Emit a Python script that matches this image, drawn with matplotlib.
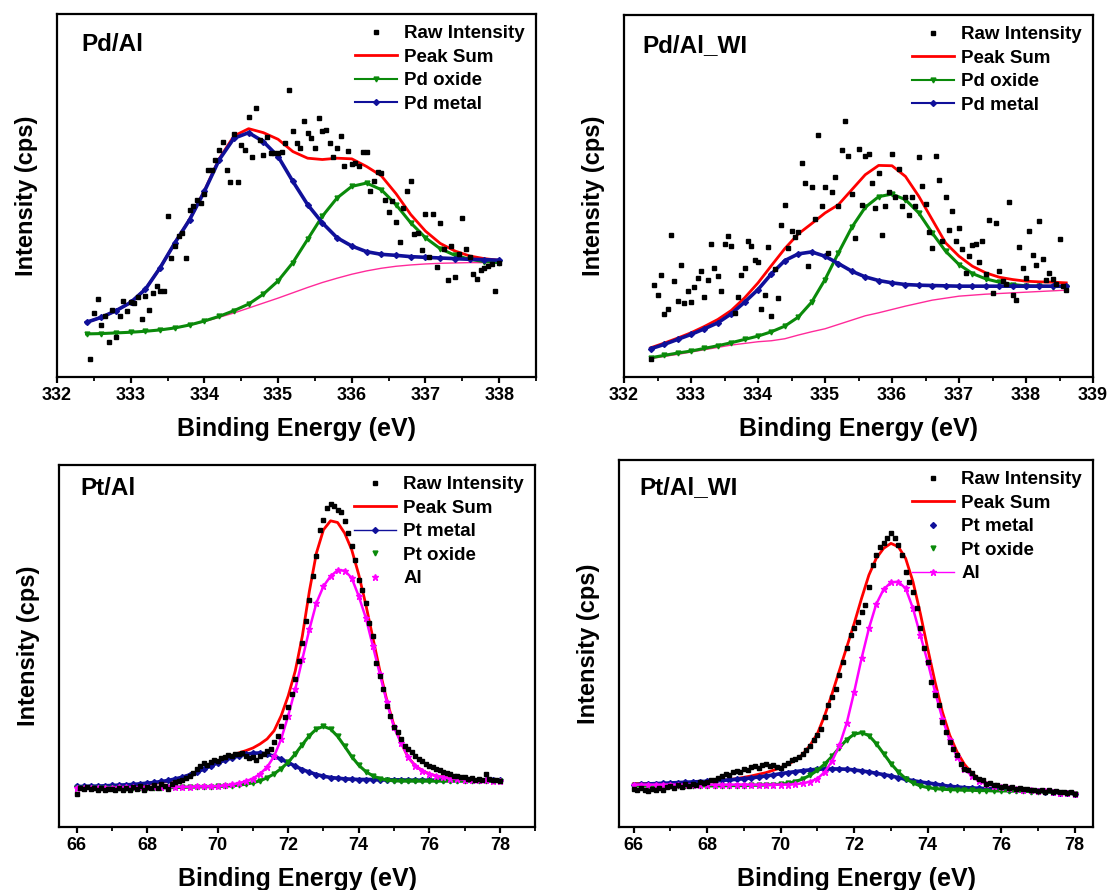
import matplotlib
matplotlib.use("Agg")
import matplotlib.pyplot as plt
import numpy as np
from matplotlib.lines import Line2D
from matplotlib.ticker import MultipleLocator

plt.rcParams['font.family'] = ['Liberation Sans', 'DejaVu Sans']
plt.rcParams['font.weight'] = 'bold'

# ---------------- Pd/Al ----------------
pdal_x0, pdal_step = 332.4, 0.2
pdal_sum = [16.5, 18.0, 20.0, 22.5, 26.5, 33.0, 40.5, 47.6, 56.2, 65.8, 72.7, 74.9, 73.7, 71.7, 68.0,
            66.0, 65.6, 66.0, 65.8, 63.5, 60.7, 55.3, 49.0, 44.0, 40.3, 38.0, 36.5, 35.7, 35.2]
pdal_metal = [16.5, 18.0, 20.0, 22.5, 26.5, 33.0, 40.5, 47.5, 56.0, 65.5, 72.0, 73.7, 71.0, 66.5, 59.0,
              52.0, 46.5, 42.0, 39.5, 37.8, 37.0, 36.7, 36.3, 36.1, 35.9, 35.7, 35.5, 35.4, 35.2]
pdal_oxide = [13.0, 13.1, 13.3, 13.5, 13.8, 14.2, 14.8, 15.7, 16.9, 18.3, 20.0, 22.0, 25.0, 29.0, 34.5,
              41.5, 48.5, 54.0, 57.5, 58.5, 56.5, 52.0, 46.5, 42.0, 38.7, 36.7, 35.5, 34.8, 34.5]
pdal_bg = [13.0, 13.1, 13.3, 13.5, 13.8, 14.2, 14.8, 15.6, 16.7, 18.0, 19.3, 20.8, 22.3, 23.8, 25.4,
           27.0, 28.5, 29.8, 31.0, 32.0, 32.8, 33.4, 33.8, 34.1, 34.3, 34.4, 34.5, 34.5, 34.5]
pdal_raw_x0, pdal_raw_step = 332.45, 0.05
pdal_raw = [5.5, 19.2, 23.5, 15.7, 18.5, 10.7, 20.2, 12.0, 18.5, 23.0,
            20.0, 22.5, 22.2, 24.0, 17.5, 24.5, 20.2, 25.3, 27.5, 26.0,
            26.0, 48.7, 36.0, 39.5, 42.5, 43.5, 36.0, 50.3, 51.5, 53.5,
            52.5, 55.3, 62.5, 62.5, 65.5, 68.5, 71.0, 62.5, 58.7, 73.2,
            58.8, 70.0, 68.5, 78.5, 66.3, 81.0, 71.5, 67.0, 72.5, 67.5,
            67.5, 67.5, 68.0, 70.7, 86.7, 74.2, 70.7, 69.0, 77.3, 73.5,
            72.2, 69.2, 78.2, 74.2, 74.5, 70.7, 66.5, 69.2, 72.7, 63.5,
            68.3, 64.3, 64.5, 63.5, 68.0, 68.0, 56.0, 59.2, 61.7, 61.5,
            53.5, 49.8, 53.0, 46.8, 40.8, 51.0, 56.0, 59.0, 43.0, 43.3,
            38.3, 49.2, 36.2, 49.3, 33.3, 46.5, 38.7, 29.2, 39.5, 30.2,
            37.0, 48.0, 38.7, 36.3, 31.2, 29.5, 32.3, 33.0, 33.5, 34.2,
            26.0, 34.5]

# ---------------- Pd/Al_WI ----------------
pdwi_x0, pdwi_step = 332.4, 0.2
pdwi_sum = [8.8, 10.2, 11.7, 13.3, 15.2, 17.3, 20.0, 23.8, 28.3, 33.5, 38.6, 43.0, 46.1, 49.3, 51.8, 56.3,
            60.8, 63.6, 63.5, 60.3, 54.3, 47.3, 40.3, 36.3, 33.3, 31.3, 30.0, 29.3, 28.8, 28.6, 28.5, 28.3]
pdwi_metal = [8.5, 9.8, 11.3, 12.8, 14.5, 16.3, 19.0, 22.5, 26.3, 31.0, 35.0, 37.0, 37.6, 36.3, 34.1, 31.8,
              30.1, 29.0, 28.3, 27.8, 27.6, 27.5, 27.4, 27.3, 27.3, 27.3, 27.3, 27.3, 27.3, 27.3, 27.3, 27.3]
pdwi_oxide = [5.8, 6.5, 7.2, 7.8, 8.6, 9.4, 10.3, 11.3, 12.3, 13.6, 15.3, 18.0, 22.5, 29.3, 37.3, 45.0,
              51.0, 54.2, 55.0, 53.3, 49.3, 43.3, 37.8, 33.8, 31.1, 29.5, 28.5, 27.8, 27.4, 27.3, 27.2, 27.2]
pdwi_bg = [5.5, 6.2, 6.8, 7.5, 8.2, 8.9, 9.6, 10.1, 10.6, 10.9, 11.5, 12.6, 13.6, 14.5, 15.8, 17.1,
           18.4, 19.3, 20.3, 21.3, 22.2, 23.1, 23.7, 24.3, 24.6, 24.9, 25.1, 25.3, 25.5, 25.7, 25.9, 26.1]
pdwi_raw_x0, pdwi_raw_step = 332.4, 0.05
pdwi_raw = [5.3, 27.8, 24.5, 30.8, 18.8, 20.3, 42.8, 28.8, 22.8, 33.6,
            22.1, 26.0, 22.5, 27.1, 29.8, 31.8, 24.1, 29.3, 40.0, 32.8,
            30.3, 26.0, 40.0, 42.3, 39.5, 19.3, 24.0, 30.8, 32.8, 41.0,
            39.5, 35.1, 34.6, 20.3, 24.6, 39.1, 18.3, 32.5, 23.6, 45.8,
            51.6, 38.8, 44.0, 42.0, 43.5, 64.3, 58.3, 33.3, 57.0, 47.5,
            72.8, 51.5, 57.0, 37.3, 55.5, 60.1, 51.3, 68.1, 77.1, 66.5,
            55.0, 41.8, 68.6, 51.6, 66.5, 67.0, 58.3, 50.8, 61.3, 42.8,
            51.3, 55.5, 67.0, 54.1, 62.6, 51.3, 54.0, 48.6, 54.0, 51.3,
            66.0, 57.5, 52.1, 43.5, 38.8, 66.5, 59.3, 40.8, 54.0, 44.3,
            50.0, 40.8, 44.8, 38.5, 31.3, 36.5, 39.8, 40.1, 34.5, 40.8,
            31.0, 47.1, 25.1, 46.3, 31.8, 29.0, 28.0, 52.5, 24.6, 23.0,
            39.1, 32.8, 29.8, 44.0, 36.6, 33.6, 46.8, 35.6, 29.3, 31.3,
            29.5, 28.0, 41.5, 27.5, 26.3]

# ---------------- Pt/Al ----------------
ptal_x0, ptal_step = 66.0, 0.2
ptal_sum = [12.0, 12.0, 12.1, 12.1, 12.2, 12.2, 12.3, 12.4, 12.5, 12.7,
            12.9, 13.1, 13.4, 13.8, 14.3, 15.0, 15.7, 16.5, 17.5, 18.5,
            19.5, 20.5, 21.5, 22.3, 23.0, 23.8, 25.0, 26.5, 29.0, 33.5,
            39.5, 47.0, 57.5, 71.0, 82.5, 89.5, 92.2, 91.7, 88.5, 83.5,
            76.0, 67.0, 57.0, 47.0, 38.0, 30.5, 25.5, 21.0, 18.5, 17.0,
            16.0, 15.4, 15.0, 14.7, 14.5, 14.3, 14.2, 14.1, 14.0, 13.9,
            13.8]
ptal_metal = [12.2, 12.2, 12.3, 12.3, 12.4, 12.5, 12.6, 12.7, 12.8, 13.0,
              13.2, 13.4, 13.7, 14.0, 14.5, 15.0, 15.7, 16.5, 17.4, 18.4,
              19.3, 20.1, 20.8, 21.4, 21.9, 22.2, 22.3, 22.0, 21.3, 20.4,
              19.4, 18.3, 17.3, 16.5, 15.8, 15.3, 14.9, 14.7, 14.5, 14.4,
              14.3, 14.3, 14.3, 14.2, 14.2, 14.2, 14.2, 14.1, 14.1, 14.1,
              14.1, 14.1, 14.1, 14.0, 14.0, 14.0, 14.0, 14.0, 14.0, 14.0,
              14.0]
ptal_oxide = [11.7, 11.7, 11.7, 11.7, 11.7, 11.7, 11.7, 11.7, 11.7, 11.7,
              11.8, 11.8, 11.8, 11.8, 11.9, 11.9, 12.0, 12.0, 12.1, 12.1,
              12.2, 12.3, 12.4, 12.6, 12.9, 13.3, 13.9, 14.8, 16.0, 17.6,
              19.5, 22.0, 24.8, 27.5, 29.5, 30.3, 29.5, 27.3, 24.3, 21.2,
              18.6, 16.7, 15.4, 14.6, 14.1, 13.9, 13.8, 13.8, 13.8, 13.8,
              13.8, 13.8, 13.8, 13.8, 13.8, 13.8, 13.8, 13.8, 13.8, 13.8,
              13.8]
ptal_al = [11.8, 11.8, 11.8, 11.8, 11.8, 11.8, 11.9, 11.9, 11.9, 11.9,
           12.0, 12.0, 12.0, 12.0, 12.1, 12.1, 12.1, 12.2, 12.2, 12.2,
           12.3, 12.5, 12.8, 13.2, 13.8, 14.6, 16.0, 18.0, 21.3, 26.5,
           33.5, 41.5, 50.5, 59.5, 67.5, 72.5, 75.5, 77.3, 77.2, 75.0,
           69.5, 63.0, 54.5, 46.0, 37.5, 30.0, 25.3, 21.0, 18.5, 17.0,
           16.0, 15.4, 15.0, 14.6, 14.4, 14.3, 14.2, 14.1, 14.0, 13.9,
           13.8]
ptal_raw_x0, ptal_raw_step = 66.0, 0.1
ptal_raw = [9.8, 11.8, 11.5, 12.0, 11.3, 11.6, 11.2, 11.8, 11.0, 11.5,
            11.4, 11.0, 11.6, 11.2, 11.7, 11.0, 11.9, 11.4, 12.3, 11.2,
            12.0, 11.6, 12.6, 11.8, 12.9, 12.3, 11.5, 12.8, 13.4, 13.8,
            14.2, 14.8, 15.5, 16.2, 17.5, 18.5, 19.3, 18.8, 19.5, 20.2,
            20.0, 20.8, 21.0, 21.6, 21.4, 21.9, 22.0, 22.3, 21.5, 20.8,
            21.0, 20.3, 21.5, 22.0, 22.8, 23.6, 25.5, 27.5, 30.5, 33.0,
            36.0, 40.0, 44.5, 50.0, 55.5, 62.0, 68.5, 75.5, 81.5, 89.5,
            92.5, 96.0, 97.3, 96.8, 95.5, 94.8, 92.0, 88.5, 84.5, 80.5,
            74.5, 71.5, 67.5, 61.5, 57.5, 49.5, 45.5, 41.5, 36.5, 33.5,
            30.0, 28.5, 26.5, 24.5, 23.5, 22.5, 21.5, 20.5, 20.0, 19.0,
            18.5, 18.0, 17.5, 17.2, 16.7, 16.3, 16.0, 15.5, 15.5, 15.2,
            15.0, 14.5, 14.7, 14.3, 14.5, 14.2, 16.0, 14.4, 14.0, 14.2,
            13.8]

# ---------------- Pt/Al_WI ----------------
ptwi_x0, ptwi_step = 66.0, 0.2
ptwi_sum = [13.0, 13.0, 13.0, 13.0, 13.0, 13.1, 13.1, 13.2, 13.3, 13.4,
            13.5, 13.7, 13.9, 14.2, 14.5, 14.9, 15.3, 15.8, 16.3, 17.0,
            17.8, 18.8, 20.0, 21.8, 24.5, 28.0, 33.5, 40.0, 47.0, 54.0,
            61.0, 68.5, 75.5, 80.5, 83.5, 85.0, 84.0, 80.5, 73.5, 64.0,
            53.5, 43.5, 34.5, 27.5, 22.5, 18.8, 16.2, 14.3, 13.2, 12.5,
            12.0, 11.7, 11.5, 11.2, 11.0, 10.8, 10.7, 10.5, 10.3, 10.1,
            10.0]
ptwi_metal = [12.7, 12.8, 12.9, 13.0, 13.1, 13.2, 13.3, 13.4, 13.5, 13.6,
              13.7, 13.8, 14.0, 14.1, 14.3, 14.5, 14.7, 15.0, 15.3, 15.6,
              16.0, 16.3, 16.6, 16.9, 17.1, 17.3, 17.4, 17.4, 17.4, 17.3,
              17.1, 16.8, 16.5, 16.1, 15.7, 15.3, 14.8, 14.3, 13.9, 13.5,
              13.2, 12.9, 12.5, 12.2, 12.0, 11.8, 11.7, 11.6, 11.5, 11.4,
              11.3, 11.2, 11.1, 11.0, 10.9, 10.8, 10.6, 10.5, 10.3, 10.2,
              10.0]
ptwi_oxide = [12.3, 12.3, 12.3, 12.3, 12.3, 12.3, 12.3, 12.3, 12.3, 12.3,
              12.3, 12.3, 12.3, 12.4, 12.4, 12.4, 12.5, 12.5, 12.6, 12.7,
              12.8, 13.1, 13.6, 14.4, 15.5, 17.0, 18.9, 21.2, 23.8, 26.2,
              27.8, 28.3, 27.4, 25.0, 22.0, 19.0, 16.5, 14.5, 13.2, 12.3,
              11.8, 11.5, 11.3, 11.2, 11.1, 11.0, 11.0, 10.9, 10.9, 10.8,
              10.8, 10.8, 10.7, 10.7, 10.6, 10.6, 10.5, 10.4, 10.3, 10.2,
              10.0]
ptwi_al = [12.7, 12.7, 12.7, 12.7, 12.7, 12.7, 12.7, 12.7, 12.7, 12.7,
           12.7, 12.7, 12.7, 12.7, 12.7, 12.7, 12.7, 12.7, 12.7, 12.7,
           12.7, 12.7, 12.8, 13.1, 13.6, 14.5, 16.5, 19.8, 24.5, 31.3,
           40.5, 50.5, 59.5, 66.8, 71.2, 73.3, 73.5, 71.5, 65.5, 57.5,
           49.5, 40.5, 32.5, 26.0, 21.0, 17.5, 15.3, 13.7, 12.9, 12.3,
           11.9, 11.7, 11.4, 11.2, 11.0, 10.8, 10.7, 10.5, 10.3, 10.2,
           10.0]
ptwi_raw_x0, ptwi_raw_step = 66.0, 0.1
ptwi_raw = [11.5, 11.0, 11.8, 11.2, 10.8, 11.5, 11.0, 11.6, 11.2, 11.9,
            12.2, 11.6, 12.5, 12.0, 12.8, 12.4, 13.0, 12.7, 13.4, 13.2,
            13.5, 14.2, 14.0, 14.8, 15.3, 16.0, 15.6, 16.4, 16.8, 16.5,
            17.5, 17.2, 18.0, 18.2, 17.6, 18.6, 18.8, 18.3, 18.6, 18.0,
            17.8, 18.5, 19.3, 20.0, 20.5, 21.0, 22.0, 23.0, 24.3, 26.0,
            27.5, 29.5, 33.0, 36.5, 39.0, 41.5, 45.5, 49.5, 53.5, 57.5,
            59.5, 61.5, 64.5, 66.5, 72.0, 78.5, 81.5, 84.0, 85.0, 86.5,
            88.0, 86.5, 84.5, 81.5, 76.5, 73.5, 70.5, 65.5, 59.5, 53.5,
            49.5, 43.5, 39.5, 36.5, 31.5, 28.5, 25.5, 23.5, 21.5, 19.0,
            17.5, 17.0, 16.3, 15.0, 14.5, 14.0, 13.0, 13.2, 12.5, 12.6,
            12.0, 12.2, 11.8, 11.9, 11.5, 11.7, 11.3, 11.4, 11.0, 11.2,
            10.8, 11.0, 10.6, 11.2, 10.5, 10.7, 10.4, 10.6, 10.2, 10.4,
            10.0]

RED = '#ff0000'
GREEN = '#0a8a0a'
BLUE = '#10109a'
PINK = '#ff2a9a'
MAG = '#ff00ff'


def grid(x0, step, vals):
    return x0 + step * np.arange(len(vals))


def style_axes(ax, xlim, ylim, major, minor, title, title_xy):
    ax.set_xlim(*xlim)
    ax.set_ylim(*ylim)
    ax.xaxis.set_major_locator(MultipleLocator(major))
    ax.xaxis.set_minor_locator(MultipleLocator(minor))
    ax.set_yticks([])
    ax.tick_params(axis='x', which='major', direction='out', length=4.5, width=1.6,
                   labelsize=13, pad=3)
    ax.tick_params(axis='x', which='minor', direction='out', length=3, width=1.3)
    for lab in ax.get_xticklabels():
        lab.set_fontweight('bold')
    for s in ax.spines.values():
        s.set_linewidth(1.6)
    ax.set_xlabel('Binding Energy (eV)', fontsize=18, fontweight='bold', labelpad=9)
    ax.set_ylabel('Intensity (cps)', fontsize=17, fontweight='bold', labelpad=14)
    ax.text(title_xy[0], title_xy[1], title, transform=ax.transAxes, fontsize=17.5,
            fontweight='bold', va='center', ha='left')


def leg(ax, handles):
    ax.legend(handles=handles, loc='upper right', frameon=False,
              prop={'size': 13.5, 'weight': 'bold'}, handlelength=2.2,
              handletextpad=0.4, labelspacing=0.34, borderaxespad=0.3, borderpad=0.3)


raw_h = Line2D([], [], ls='none', marker='s', ms=3.5, color='black', label='Raw Intensity')
sum_h = Line2D([], [], color=RED, lw=2, label='Peak Sum')

fig = plt.figure(figsize=(11.1, 8.9), dpi=100)

# Pd/Al
ax = fig.add_axes([0.0514, 0.5764, 0.4315, 0.4079])
ax.plot(grid(pdal_x0, pdal_step, pdal_bg), pdal_bg, color=PINK, lw=1.0)
ax.plot(grid(pdal_x0, pdal_step, pdal_sum), pdal_sum, color=RED, lw=2)
ax.plot(grid(pdal_x0, pdal_step, pdal_oxide), pdal_oxide, color=GREEN, lw=2.2, marker='v', ms=3.5)
ax.plot(grid(pdal_x0, pdal_step, pdal_metal), pdal_metal, color=BLUE, lw=2.6, marker='D', ms=3)
ax.plot(grid(pdal_raw_x0, pdal_raw_step, pdal_raw), pdal_raw, ls='none', marker='s', ms=3,
        color='black')
style_axes(ax, (332, 338.5), (0, 109.5), 1, 0.5, 'Pd/Al', (0.05, 0.915))
leg(ax, [raw_h, sum_h,
         Line2D([], [], color=GREEN, lw=1.5, marker='v', ms=3.5, label='Pd oxide'),
         Line2D([], [], color=BLUE, lw=1.5, marker='D', ms=3, label='Pd metal')])

# Pd/Al_WI
ax = fig.add_axes([0.5622, 0.5764, 0.4225, 0.4067])
ax.plot(grid(pdwi_x0, pdwi_step, pdwi_bg), pdwi_bg, color=PINK, lw=1.0)
ax.plot(grid(pdwi_x0, pdwi_step, pdwi_sum), pdwi_sum, color=RED, lw=2)
ax.plot(grid(pdwi_x0, pdwi_step, pdwi_oxide), pdwi_oxide, color=GREEN, lw=2.2, marker='v', ms=3.5)
ax.plot(grid(pdwi_x0, pdwi_step, pdwi_metal), pdwi_metal, color=BLUE, lw=2.6, marker='D', ms=3)
ax.plot(grid(pdwi_raw_x0, pdwi_raw_step, pdwi_raw), pdwi_raw, ls='none', marker='s', ms=3,
        color='black')
style_axes(ax, (332, 339), (0, 108.8), 1, 0.5, 'Pd/Al_WI', (0.04, 0.915))
leg(ax, [raw_h, sum_h,
         Line2D([], [], color=GREEN, lw=1.5, marker='v', ms=3.5, label='Pd oxide'),
         Line2D([], [], color=BLUE, lw=1.5, marker='D', ms=3, label='Pd metal')])

# Pt/Al
ax = fig.add_axes([0.0532, 0.0708, 0.4288, 0.4067])
ax.plot(grid(ptal_x0, ptal_step, ptal_sum), ptal_sum, color=RED, lw=2)
ax.plot(grid(ptal_x0, ptal_step, ptal_metal), ptal_metal, color=BLUE, lw=2.6, marker='D', ms=3)
ax.plot(grid(ptal_x0, ptal_step, ptal_oxide), ptal_oxide, color=GREEN, lw=2.2, marker='v', ms=3.5)
ax.plot(grid(ptal_x0, ptal_step, ptal_al), ptal_al, color=MAG, lw=1.8, marker='*', ms=4.5)
ax.plot(grid(ptal_raw_x0, ptal_raw_step, ptal_raw), ptal_raw, ls='none', marker='s', ms=3,
        color='black')
style_axes(ax, (65.5, 79.0), (0, 109), 2, 1, 'Pt/Al', (0.044, 0.935))
leg(ax, [raw_h, sum_h,
         Line2D([], [], color=BLUE, lw=1, marker='D', ms=3, label='Pt metal'),
         Line2D([], [], ls='none', color=GREEN, marker='v', ms=3.5, label='Pt oxide'),
         Line2D([], [], ls='none', color=MAG, marker='*', ms=4.5, label='Al')])

# Pt/Al_WI
ax = fig.add_axes([0.5577, 0.0708, 0.4270, 0.4124])
ax.plot(grid(ptwi_x0, ptwi_step, ptwi_sum), ptwi_sum, color=RED, lw=2)
ax.plot(grid(ptwi_x0, ptwi_step, ptwi_metal), ptwi_metal, color=BLUE, lw=2.6, marker='D', ms=3)
ax.plot(grid(ptwi_x0, ptwi_step, ptwi_oxide), ptwi_oxide, color=GREEN, lw=2.2, marker='v', ms=3.5)
ax.plot(grid(ptwi_x0, ptwi_step, ptwi_al), ptwi_al, color=MAG, lw=1.8, marker='*', ms=4.5)
ax.plot(grid(ptwi_raw_x0, ptwi_raw_step, ptwi_raw), ptwi_raw, ls='none', marker='s', ms=3,
        color='black')
style_axes(ax, (65.6, 78.5), (0, 110), 2, 1, 'Pt/Al_WI', (0.042, 0.925))
leg(ax, [raw_h, sum_h,
         Line2D([], [], ls='none', color=BLUE, marker='D', ms=3, label='Pt metal'),
         Line2D([], [], ls='none', color=GREEN, marker='v', ms=3.5, label='Pt oxide'),
         Line2D([], [], color=MAG, lw=1, marker='*', ms=4.5, label='Al')])

fig.savefig('out.png', dpi=100)
